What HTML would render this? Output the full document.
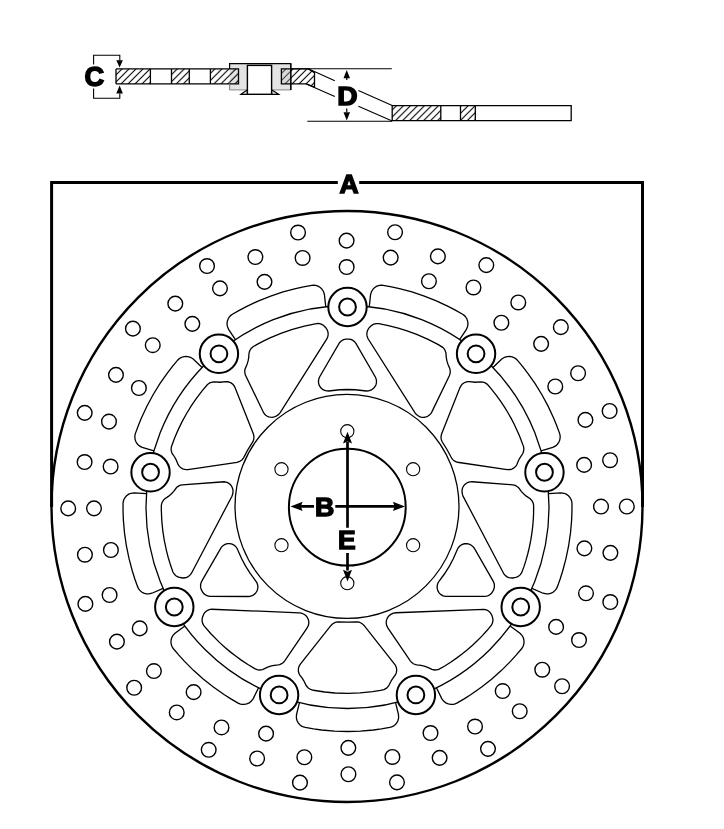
<!DOCTYPE html><html><head><meta charset="utf-8"><style>html,body{margin:0;padding:0;background:#fff;overflow:hidden}svg{display:block}text{font-family:"Liberation Sans",sans-serif;font-weight:bold}.t{will-change:transform}</style></head><body><svg width="724" height="829" viewBox="0 0 724 829"><defs><pattern id="h1" patternUnits="userSpaceOnUse" x="1.9" y="0" width="7" height="7"><path d="M-1 8L8 -1M-1 1L1 -1M6 8L8 6" stroke="#000" stroke-width="1.1"/></pattern><pattern id="h2" patternUnits="userSpaceOnUse" x="1.2" y="0" width="7" height="7"><path d="M-1 8L8 -1M-1 1L1 -1M6 8L8 6" stroke="#000" stroke-width="1.1"/></pattern><pattern id="h3" patternUnits="userSpaceOnUse" x="3.8" y="0" width="7" height="7"><path d="M-1 8L8 -1M-1 1L1 -1M6 8L8 6" stroke="#000" stroke-width="1.1"/></pattern><pattern id="h4" patternUnits="userSpaceOnUse" x="4.9" y="0" width="7" height="7"><path d="M-1 8L8 -1M-1 1L1 -1M6 8L8 6" stroke="#000" stroke-width="1.1"/></pattern><pattern id="h5" patternUnits="userSpaceOnUse" x="5.2" y="0" width="7" height="7"><path d="M-1 8L8 -1M-1 1L1 -1M6 8L8 6" stroke="#000" stroke-width="1.1"/></pattern><pattern id="h6" patternUnits="userSpaceOnUse" x="6.85" y="0" width="7" height="7"><path d="M-1 8L8 -1M-1 1L1 -1M6 8L8 6" stroke="#000" stroke-width="1.1"/></pattern></defs><rect width="724" height="829" fill="#fff"/><g fill="none" stroke="#000"><path d="M93.6 64.6V55.3H119.8V60.4M93.6 88.4V98.2H119.8V93.6" stroke-width="1.1"/></g><path d="M116.3 60.3H122.9L119.6 67.5ZM116.3 93.6H122.9L119.6 85.6Z" fill="#000"/><rect x="116" y="68.9" width="34.4" height="15" fill="url(#h1)"/><rect x="171.5" y="68.9" width="17.8" height="15" fill="url(#h2)"/><rect x="210.4" y="68.9" width="28.2" height="15" fill="url(#h3)"/><path d="M116 68.9H238.6M116 83.9H238.6M116 68.9V83.9M150.4 68.9V83.9M171.5 68.9V83.9M189.3 68.9V83.9M210.4 68.9V83.9M238.6 68.9V83.9" fill="none" stroke="#000" stroke-width="1.3"/><rect x="229.6" y="63.6" width="61.2" height="26.3" fill="#e3e3e3"/><path d="M229.6 89.9H290.8" stroke="#9a9a9a" stroke-width="1.2"/><path d="M229.6 69V63.6H290.8V89.9" fill="none" stroke="#000" stroke-width="1.2"/><path d="M229.6 84V89.9" stroke="#8a8a8a" stroke-width="1.2"/><rect x="229.6" y="68.9" width="8.9" height="15" fill="url(#h3)"/><path d="M229.6 68.9H238.5V83.9H229.6" fill="none" stroke="#000" stroke-width="1.3"/><path d="M281.4 68.9H308.3L314.5 72.6V87.1L306.3 83.9H281.4Z" fill="url(#h4)"/><rect x="281.4" y="68.9" width="9.4" height="15" fill="#c8c8c8" opacity="0.35"/><path d="M281.4 68.9H308.3L314.5 72.6V87.1L306.3 83.9H281.4Z" fill="none" stroke="#000" stroke-width="1.3"/><path d="M290.8 63.6V89.9" stroke="#000" stroke-width="1.2"/><path d="M241 94.3L247.4 89.8V94.3ZM278.6 94.3L271.6 89.8V94.3Z" fill="#e3e3e3" stroke="#000" stroke-width="1.2" stroke-linejoin="miter"/><rect x="247.4" y="65.4" width="24.2" height="28.9" fill="#fff" stroke="#000" stroke-width="1.4"/><path d="M290.2 68.8H391.8M307.3 121.2H392.2" fill="none" stroke="#000" stroke-width="1.1"/><path d="M308.3 68.8L334.8 80.8M358.4 90.6L392.2 105.6M306.3 83.9L334.8 96.6M358.4 106.2L392.2 121" fill="none" stroke="#000" stroke-width="1.1"/><rect x="392.2" y="105.6" width="48.6" height="15" fill="url(#h5)"/><rect x="460.5" y="105.6" width="14.8" height="15" fill="url(#h6)"/><path d="M392.2 105.6H571.2V120.6H392.2ZM440.8 105.6V120.6M460.5 105.6V120.6M475.3 105.6V120.6" fill="none" stroke="#000" stroke-width="1.3"/><path d="M346.75 77V80M346.75 108.6V112" stroke="#000" stroke-width="1.2"/><path d="M343.5 78.2H350L346.75 70ZM343.5 112.2H350L346.75 120.4Z" fill="#000"/><g class="t"><text transform="translate(347.5 105) scale(1.1 0.99)" font-size="25.6" text-anchor="middle" stroke="#000" stroke-width="1.4">D</text></g><g class="t"><text transform="translate(94.2 86.2) scale(0.97 0.98)" font-size="28" text-anchor="middle" stroke="#000" stroke-width="1.6">C</text></g><path d="M51.6 507V182.5H337.8M359.2 182.5H642.5V507" fill="none" stroke="#000" stroke-width="3"/><g class="t"><text x="349" y="193.3" font-size="26.5" text-anchor="middle" stroke="#000" stroke-width="1.4">A</text></g><circle cx="347" cy="506.5" r="295.5" fill="none" stroke="#000" stroke-width="2.4"/><path d="M353.92 240.65a7.35 7.35 0 1 0 -14.7 0a7.35 7.35 0 1 0 14.7 0ZM354.01 267.05a7.35 7.35 0 1 0 -14.7 0a7.35 7.35 0 1 0 14.7 0ZM402.39 232.23a7.35 7.35 0 1 0 -14.7 0a7.35 7.35 0 1 0 14.7 0ZM398 257.65a7.35 7.35 0 1 0 -14.7 0a7.35 7.35 0 1 0 14.7 0ZM445.23 256.42a7.35 7.35 0 1 0 -14.7 0a7.35 7.35 0 1 0 14.7 0ZM436.28 281.26a7.35 7.35 0 1 0 -14.7 0a7.35 7.35 0 1 0 14.7 0ZM493.65 265.08a7.35 7.35 0 1 0 -14.7 0a7.35 7.35 0 1 0 14.7 0ZM480.83 287.47a7.35 7.35 0 1 0 -14.7 0a7.35 7.35 0 1 0 14.7 0ZM525.63 302.47a7.35 7.35 0 1 0 -14.7 0a7.35 7.35 0 1 0 14.7 0ZM508.73 322.75a7.35 7.35 0 1 0 -14.7 0a7.35 7.35 0 1 0 14.7 0ZM568.18 327.17a7.35 7.35 0 1 0 -14.7 0a7.35 7.35 0 1 0 14.7 0ZM548.47 343.83a7.35 7.35 0 1 0 -14.7 0a7.35 7.35 0 1 0 14.7 0ZM585.44 373.24a7.35 7.35 0 1 0 -14.7 0a7.35 7.35 0 1 0 14.7 0ZM562.62 386.52a7.35 7.35 0 1 0 -14.7 0a7.35 7.35 0 1 0 14.7 0ZM616.97 411.01a7.35 7.35 0 1 0 -14.7 0a7.35 7.35 0 1 0 14.7 0ZM592.76 419.92a7.35 7.35 0 1 0 -14.7 0a7.35 7.35 0 1 0 14.7 0ZM617.43 460.2a7.35 7.35 0 1 0 -14.7 0a7.35 7.35 0 1 0 14.7 0ZM591.45 464.88a7.35 7.35 0 1 0 -14.7 0a7.35 7.35 0 1 0 14.7 0ZM634.15 506.48a7.35 7.35 0 1 0 -14.7 0a7.35 7.35 0 1 0 14.7 0ZM608.35 506.57a7.35 7.35 0 1 0 -14.7 0a7.35 7.35 0 1 0 14.7 0ZM617.76 552.86a7.35 7.35 0 1 0 -14.7 0a7.35 7.35 0 1 0 14.7 0ZM591.74 548.37a7.35 7.35 0 1 0 -14.7 0a7.35 7.35 0 1 0 14.7 0ZM617.64 602.06a7.35 7.35 0 1 0 -14.7 0a7.35 7.35 0 1 0 14.7 0ZM593.36 593.32a7.35 7.35 0 1 0 -14.7 0a7.35 7.35 0 1 0 14.7 0ZM586.37 640.04a7.35 7.35 0 1 0 -14.7 0a7.35 7.35 0 1 0 14.7 0ZM563.46 626.92a7.35 7.35 0 1 0 -14.7 0a7.35 7.35 0 1 0 14.7 0ZM569.43 686.23a7.35 7.35 0 1 0 -14.7 0a7.35 7.35 0 1 0 14.7 0ZM549.61 669.72a7.35 7.35 0 1 0 -14.7 0a7.35 7.35 0 1 0 14.7 0ZM527.06 711.23a7.35 7.35 0 1 0 -14.7 0a7.35 7.35 0 1 0 14.7 0ZM510.02 691.07a7.35 7.35 0 1 0 -14.7 0a7.35 7.35 0 1 0 14.7 0ZM495.34 748.84a7.35 7.35 0 1 0 -14.7 0a7.35 7.35 0 1 0 14.7 0ZM482.37 726.54a7.35 7.35 0 1 0 -14.7 0a7.35 7.35 0 1 0 14.7 0ZM446.98 757.84a7.35 7.35 0 1 0 -14.7 0a7.35 7.35 0 1 0 14.7 0ZM437.86 733.06a7.35 7.35 0 1 0 -14.7 0a7.35 7.35 0 1 0 14.7 0ZM404.31 782.34a7.35 7.35 0 1 0 -14.7 0a7.35 7.35 0 1 0 14.7 0ZM399.74 756.94a7.35 7.35 0 1 0 -14.7 0a7.35 7.35 0 1 0 14.7 0ZM355.78 774.25a7.35 7.35 0 1 0 -14.7 0a7.35 7.35 0 1 0 14.7 0ZM355.69 747.85a7.35 7.35 0 1 0 -14.7 0a7.35 7.35 0 1 0 14.7 0ZM307.31 782.67a7.35 7.35 0 1 0 -14.7 0a7.35 7.35 0 1 0 14.7 0ZM311.7 757.25a7.35 7.35 0 1 0 -14.7 0a7.35 7.35 0 1 0 14.7 0ZM264.47 758.48a7.35 7.35 0 1 0 -14.7 0a7.35 7.35 0 1 0 14.7 0ZM273.42 733.64a7.35 7.35 0 1 0 -14.7 0a7.35 7.35 0 1 0 14.7 0ZM216.05 749.82a7.35 7.35 0 1 0 -14.7 0a7.35 7.35 0 1 0 14.7 0ZM228.87 727.43a7.35 7.35 0 1 0 -14.7 0a7.35 7.35 0 1 0 14.7 0ZM184.07 712.43a7.35 7.35 0 1 0 -14.7 0a7.35 7.35 0 1 0 14.7 0ZM200.97 692.15a7.35 7.35 0 1 0 -14.7 0a7.35 7.35 0 1 0 14.7 0ZM141.52 687.73a7.35 7.35 0 1 0 -14.7 0a7.35 7.35 0 1 0 14.7 0ZM161.23 671.07a7.35 7.35 0 1 0 -14.7 0a7.35 7.35 0 1 0 14.7 0ZM124.26 641.66a7.35 7.35 0 1 0 -14.7 0a7.35 7.35 0 1 0 14.7 0ZM147.08 628.38a7.35 7.35 0 1 0 -14.7 0a7.35 7.35 0 1 0 14.7 0ZM92.73 603.89a7.35 7.35 0 1 0 -14.7 0a7.35 7.35 0 1 0 14.7 0ZM116.94 594.98a7.35 7.35 0 1 0 -14.7 0a7.35 7.35 0 1 0 14.7 0ZM92.27 554.7a7.35 7.35 0 1 0 -14.7 0a7.35 7.35 0 1 0 14.7 0ZM118.25 550.02a7.35 7.35 0 1 0 -14.7 0a7.35 7.35 0 1 0 14.7 0ZM75.55 508.42a7.35 7.35 0 1 0 -14.7 0a7.35 7.35 0 1 0 14.7 0ZM101.35 508.33a7.35 7.35 0 1 0 -14.7 0a7.35 7.35 0 1 0 14.7 0ZM91.94 462.04a7.35 7.35 0 1 0 -14.7 0a7.35 7.35 0 1 0 14.7 0ZM117.96 466.53a7.35 7.35 0 1 0 -14.7 0a7.35 7.35 0 1 0 14.7 0ZM92.06 412.84a7.35 7.35 0 1 0 -14.7 0a7.35 7.35 0 1 0 14.7 0ZM116.34 421.58a7.35 7.35 0 1 0 -14.7 0a7.35 7.35 0 1 0 14.7 0ZM123.33 374.86a7.35 7.35 0 1 0 -14.7 0a7.35 7.35 0 1 0 14.7 0ZM146.24 387.98a7.35 7.35 0 1 0 -14.7 0a7.35 7.35 0 1 0 14.7 0ZM140.27 328.67a7.35 7.35 0 1 0 -14.7 0a7.35 7.35 0 1 0 14.7 0ZM160.09 345.18a7.35 7.35 0 1 0 -14.7 0a7.35 7.35 0 1 0 14.7 0ZM182.64 303.67a7.35 7.35 0 1 0 -14.7 0a7.35 7.35 0 1 0 14.7 0ZM199.68 323.83a7.35 7.35 0 1 0 -14.7 0a7.35 7.35 0 1 0 14.7 0ZM214.36 266.06a7.35 7.35 0 1 0 -14.7 0a7.35 7.35 0 1 0 14.7 0ZM227.33 288.36a7.35 7.35 0 1 0 -14.7 0a7.35 7.35 0 1 0 14.7 0ZM262.72 257.06a7.35 7.35 0 1 0 -14.7 0a7.35 7.35 0 1 0 14.7 0ZM271.84 281.84a7.35 7.35 0 1 0 -14.7 0a7.35 7.35 0 1 0 14.7 0ZM305.39 232.56a7.35 7.35 0 1 0 -14.7 0a7.35 7.35 0 1 0 14.7 0ZM309.96 257.96a7.35 7.35 0 1 0 -14.7 0a7.35 7.35 0 1 0 14.7 0Z" fill="none" stroke="#000" stroke-width="1.4"/><path d="M459.59 339.56 L466.4 329.36 L467.64 326.38 L467.97 323.7 L467.7 321.29 L466.79 318.75 L465.46 316.71 L464.14 315.36 L462.61 314.26 L455.3 310.08 L448.12 306.31 L436.36 300.83 L424.3 296.04 L411.95 291.95 L399.42 288.59 L391.5 286.85 L383.22 285.36 L381.33 285.22 L379.45 285.4 L376.88 286.22 L374.79 287.47 L373.04 289.15 L371.57 291.41 L370.6 294.49 L369.26 306.68M541 450.78 L552.77 447.35 L555.63 445.86 L557.43 444.23 L558.95 442 L559.82 439.73 L560.18 437.06 L560.04 435.17 L559.57 433.34 L556.66 425.44 L553.58 417.94 L548.08 406.16 L541.92 394.74 L535.11 383.69 L527.67 373.06 L522.71 366.64 L517.33 360.17 L515.97 358.85 L514.41 357.78 L512.18 356.83 L509.52 356.38 L507.1 356.53 L504.52 357.32 L501.79 359.06 L492.93 367.53M531.86 588.31 L543.08 593.25 L546.24 593.95 L548.67 593.85 L551.27 593.13 L553.39 591.95 L555.38 590.13 L556.48 588.59 L557.3 586.89 L560.15 578.97 L562.61 571.24 L565.96 558.7 L568.59 546 L570.47 533.16 L571.61 520.21 L571.94 512.1 L571.98 503.69 L571.79 501.8 L571.28 499.98 L570.03 497.59 L568.43 495.76 L566.24 494.19 L563.99 493.27 L560.79 492.85 L548.56 493.65M436.46 687.8 L441.89 698.79 L443.85 701.36 L445.77 702.84 L448.23 703.95 L450.89 704.44 L453.31 704.3 L455.14 703.83 L456.87 703.06 L464.14 698.82 L470.99 694.48 L481.64 687.02 L491.82 678.97 L501.51 670.34 L510.69 661.17 L516.15 655.18 L521.59 648.75 L522.65 647.19 L523.43 645.47 L523.98 643.1 L523.97 640.4 L523.3 637.79 L522.17 635.64 L519.99 633.26 L510.1 626.01M299.44 702.68 L296.52 714.59 L296.38 717.82 L296.9 720.19 L298.06 722.63 L299.79 724.7 L301.73 726.16 L303.44 726.98 L305.26 727.49 L313.55 728.92 L321.59 730 L334.52 731.12 L347.49 731.5 L360.48 731.12 L373.41 730 L381.45 728.92 L389.74 727.49 L391.56 726.98 L393.27 726.16 L395.41 724.51 L396.94 722.63 L398.01 720.45 L398.62 717.82 L398.48 714.59 L395.56 702.68M184.9 626.01 L175.01 633.26 L172.83 635.64 L171.6 638.04 L171.03 640.4 L170.99 642.83 L171.57 645.47 L172.35 647.19 L173.41 648.75 L178.85 655.18 L184.31 661.17 L193.49 670.34 L203.18 678.97 L213.36 687.02 L224.01 694.48 L230.86 698.82 L238.13 703.06 L239.86 703.83 L241.69 704.3 L244.11 704.44 L246.77 703.95 L249.23 702.84 L251.15 701.36 L253.11 698.79 L258.54 687.8M146.44 493.65 L134.21 492.85 L131.01 493.27 L128.76 494.19 L126.57 495.76 L124.82 497.82 L123.72 499.98 L123.21 501.8 L123.02 503.69 L123.06 512.1 L123.39 520.21 L124.53 533.13 L126.41 546 L129.04 558.7 L132.39 571.24 L134.85 578.97 L137.7 586.89 L138.52 588.59 L139.62 590.13 L141.61 591.95 L143.73 593.13 L146.33 593.85 L148.76 593.95 L151.92 593.25 L163.14 588.31M202.07 367.53 L193.21 359.06 L190.48 357.32 L187.9 356.53 L185.48 356.38 L183.08 356.76 L180.59 357.78 L179.03 358.85 L177.67 360.17 L172.29 366.64 L167.33 373.06 L159.89 383.69 L153.08 394.74 L146.91 406.18 L141.42 417.94 L138.34 425.44 L135.43 433.34 L134.96 435.17 L134.82 437.06 L135.18 439.73 L136.05 442 L137.57 444.23 L139.37 445.86 L142.23 447.35 L154 450.78M325.74 306.68 L324.4 294.49 L323.43 291.41 L321.96 289.15 L320.21 287.47 L318.12 286.22 L315.55 285.4 L313.67 285.22 L311.78 285.36 L303.5 286.85 L295.58 288.59 L283.05 291.95 L270.7 296.04 L258.64 300.83 L246.88 306.31 L239.7 310.08 L232.39 314.26 L230.86 315.36 L229.54 316.71 L228.21 318.75 L227.3 321.29 L227.03 323.97 L227.36 326.38 L228.6 329.36 L235.41 339.56" fill="none" stroke="#000" stroke-width="1.3"/><circle cx="347.5" cy="507" r="201.5" fill="none" stroke="#000" stroke-width="1.3"/><path d="M461.98 491.04 L462.47 494.7 L463.16 496.4 L503.92 573.94 L505.11 575.35 L506.75 576.62 L508.63 577.51 L510.43 577.94 L512.73 577.98 L515.59 577.42 L517.34 576.81 L518.75 576 L520.33 574.63 L521.68 572.74 L523.95 566.66 L526.02 560.13 L527.85 553.52 L529.43 546.85 L530.76 540.13 L531.85 533.36 L532.69 526.56 L533.28 519.73 L533.61 512.94 L533.62 504.99 L533.05 502.74 L532.09 500.89 L530.22 498.83 L526.32 496.16 L523.53 493.76 L521.29 491.32 L518.83 488.04 L517.67 486.9 L515.28 485.47 L512.58 484.79 L472.18 481.77 L469.86 481.88 L468.06 482.38 L466.39 483.22 L464.92 484.37 L463.7 485.79 L462.79 487.41 L462.2 489.18 L461.98 491.04ZM441.67 433.76 L441.12 435.77 L441.02 437.85 L441.37 439.9 L442.16 441.82 L446.84 449.27 L451.98 458.69 L453.06 459.89 L454.33 460.89 L455.75 461.67 L457.5 462.24 L507.06 469.56 L510.06 469.52 L511.85 469.03 L513.51 468.2 L514.97 467.06 L516.05 465.85 L517.01 464.27 L518.28 461.01 L519.48 458.55 L522.78 453.49 L523.65 451.06 L523.86 448.72 L523.55 446.63 L519.54 435.97 L514.32 424.48 L511.16 418.39 L507.81 412.48 L504.21 406.64 L500.37 400.9 L496.36 395.34 L491.45 389.1 L488.2 385.24 L487.02 384.1 L485.26 382.96 L483.06 382.19 L480.97 381.97 L475.04 382.27 L469.67 381.63 L467.57 381.67 L465.96 382.03 L464.24 382.76 L462.69 383.82 L461.38 385.16 L459.98 387.59 L441.67 433.76ZM378.82 323.65 L376.05 323.59 L373.18 324.42 L370.88 325.95 L368.66 328.4 L367.44 330.63 L366.84 333.34 L367 335.88 L367.94 338.49 L415.21 413.18 L416.45 414.51 L418.11 415.76 L419.55 416.54 L421.11 417.05 L422.73 417.29 L424.36 417.25 L426.19 416.86 L427.7 416.23 L429.97 414.59 L431.03 413.34 L431.76 412.14 L449.34 375.68 L449.98 373.93 L450.28 371.62 L450.06 369.53 L449.57 367.97 L447.95 364.27 L447.04 361.41 L446.33 357.8 L445.9 352.81 L444.99 350.2 L443.98 348.65 L442.69 347.33 L438.31 344.64 L428.12 339.36 L416.67 334.32 L407.02 330.77 L398.23 328.05 L388.33 325.53 L378.82 323.65ZM247.18 363.93 L245.08 369.01 L244.75 371.09 L244.85 372.97 L245.39 375 L263.59 412.75 L264.56 414.07 L265.74 415.2 L267.3 416.23 L268.82 416.86 L270.41 417.22 L272.28 417.29 L274.13 416.99 L275.67 416.44 L278.38 414.65 L280.19 412.63 L326.83 338.89 L327.77 336.78 L328.17 334.5 L328 332.19 L327.29 329.99 L325.76 327.68 L324.12 325.95 L322.64 324.85 L321.18 324.15 L319.63 323.7 L318.03 323.52 L316.41 323.62 L304.45 326.05 L292.38 329.34 L281.53 333.08 L269.99 337.9 L263.76 340.89 L256.69 344.64 L253.04 346.77 L251.16 348.47 L250.12 349.99 L249.32 351.91 L249 353.49 L248.67 357.8 L248.14 360.69 L247.18 363.93ZM171.66 445.95 L171.26 447.55 L171.14 448.96 L171.26 450.6 L171.66 452.19 L172.45 453.9 L174.44 456.75 L175.82 459.12 L178.2 464.68 L179.39 466.39 L180.92 467.81 L182.72 468.85 L184.71 469.48 L186.32 469.66 L187.94 469.56 L237.04 462.33 L239.67 461.47 L242.11 459.73 L243.54 457.92 L247.78 449.93 L253.05 441.4 L253.88 438.76 L253.92 435.99 L253.33 433.76 L235.02 387.59 L234.03 385.73 L232.83 384.29 L231.36 383.12 L229.7 382.26 L227.9 381.75 L226.03 381.59 L220.02 382.27 L214.27 381.97 L212.4 382.1 L209.74 382.96 L208.54 383.68 L207.28 384.73 L202.11 390.87 L196.58 398.15 L191.41 405.68 L186.61 413.47 L182.24 421.42 L178.23 429.63 L174.62 438.03 L171.66 445.95ZM168.73 496.13 L164.6 498.98 L163.47 500.14 L161.95 502.74 L161.35 505.22 L161.31 509.51 L161.8 520.87 L162.84 531.1 L164.44 541.25 L166.61 551.36 L168.36 557.99 L170.69 565.58 L172.83 571.69 L173.94 573.73 L175.87 575.73 L178.52 577.16 L182.43 577.99 L185.41 577.75 L187.36 577.05 L188.94 576.09 L190.44 574.66 L191.6 572.94 L231.94 496.2 L232.65 494.26 L232.97 492.2 L233 490.57 L232.74 488.96 L231.68 486.37 L230.87 485.23 L229.73 484.06 L228.41 483.1 L227.16 482.47 L225.83 482.03 L224.22 481.77 L182.2 484.81 L179.74 485.46 L177.36 486.88 L176.2 488 L173.71 491.32 L171.47 493.76 L168.73 496.13ZM202.6 616.94 L202.1 619.21 L202.14 621.3 L202.63 623.33 L203.68 625.39 L211.1 633.95 L219.96 642.86 L225.04 647.46 L230.28 651.87 L235.69 656.09 L241.24 660.11 L247.91 664.53 L255.18 668.9 L257.12 669.68 L259.18 670.02 L261.03 669.94 L262.62 669.57 L267.64 667.21 L271.42 665.94 L274.3 665.32 L278.1 664.92 L279.71 664.57 L281.65 663.72 L283.35 662.46 L284.72 660.85 L307.31 627.7 L308.4 625.38 L308.81 623.08 L308.74 621.21 L308.29 619.4 L307.38 617.5 L306.24 616.03 L304.83 614.8 L303.42 613.97 L301.28 613.13 L299.25 612.78 L211.68 609.26 L210.28 609.41 L208.7 609.85 L207.22 610.55 L205.87 611.5 L204.87 612.48 L203.9 613.81 L202.6 616.94ZM300.36 664.15 L299.16 666.12 L298.47 668.32 L298.34 670.85 L298.82 673.11 L299.82 675.19 L302.18 678.22 L303.7 680.56 L306.29 685.78 L308.25 688.04 L310.6 689.49 L313.45 690.26 L324.68 692 L334.97 692.98 L347.53 693.4 L360.09 692.97 L372.59 691.7 L380.43 690.46 L383.97 689.66 L386.57 688.19 L388.59 685.98 L391.63 680.01 L395.64 674.39 L396.32 672.67 L396.67 670.62 L396.63 669.01 L396.32 667.42 L395.74 665.91 L394.92 664.52 L364.02 625.47 L362.74 624.14 L361.02 622.98 L359.1 622.21 L357.28 621.9 L347.53 622.2 L337.71 621.9 L335.24 622.42 L332.8 623.72 L330.98 625.47 L300.36 664.15ZM395.97 612.76 L393.5 613.2 L390.75 614.42 L388.76 616.03 L387.27 618.11 L386.39 620.52 L386.19 623.08 L386.68 625.6 L387.82 627.89 L410.28 660.85 L411.83 662.61 L413.35 663.72 L415.07 664.5 L416.67 664.89 L421.06 665.39 L424.23 666.12 L427.7 667.35 L431.94 669.42 L434.43 669.99 L436.74 669.93 L438.76 669.39 L445.2 665.71 L450.97 662 L456.55 658.12 L462.03 654.01 L467.36 649.69 L472.52 645.18 L477.52 640.49 L482.33 635.61 L486.97 630.56 L491.57 625 L492.52 622.88 L492.91 620.83 L492.9 619.21 L492.54 617.39 L491.65 614.84 L490.43 612.84 L489.13 611.5 L487.37 610.32 L485.63 609.63 L483.79 609.29 L395.97 612.76ZM439.17 581.02 L437.85 583.21 L437.16 585.66 L437.15 588.21 L437.81 590.67 L439.11 592.86 L440.94 594.63 L443.18 595.85 L445.66 596.44 L484.4 596.42 L486.26 596.23 L487.83 595.77 L489.1 595.17 L490.45 594.24 L491.46 593.27 L492.44 591.96 L493.59 589.9 L494.41 587 L494.32 584.21 L493.43 581.57 L474.12 547.98 L472.81 546.36 L470.97 544.95 L469.07 544.08 L467.03 543.66 L464.49 543.76 L462.27 544.43 L460.1 545.77 L458.5 547.44 L457.45 549.24 L453.29 558.8 L449.56 565.82 L444.57 573.76 L439.17 581.02ZM201.78 581.14 L200.88 583.29 L200.52 585.59 L200.74 587.9 L201.51 590.1 L203.09 592.73 L204.74 594.39 L206.95 595.69 L209.43 596.35 L248.42 596.48 L250.03 596.34 L252.88 595.37 L255.28 593.56 L257 591.09 L257.85 588.2 L257.8 585.43 L256.85 582.57 L250.05 573.21 L245.46 565.86 L241.42 558.2 L236.89 548.01 L235.58 546.38 L233.95 545.08 L232.08 544.16 L230.05 543.68 L227.5 543.71 L225.06 544.41 L222.88 545.73 L221.28 547.4 L201.78 581.14ZM319.72 376.75 L318.81 378.88 L318.45 381.18 L318.65 383.49 L319.41 385.68 L320.82 387.8 L322.56 389.34 L324.62 390.41 L326.87 390.95 L328.73 390.98 L339.53 389.77 L347.47 389.5 L355.41 389.77 L366.25 390.98 L368.57 390.88 L371.42 389.93 L373.84 388.13 L375.57 385.67 L376.15 384.16 L376.47 382.56 L376.37 379.79 L375.47 377.16 L355.9 343.34 L354.58 341.72 L352.94 340.43 L350.84 339.46 L348.79 339.04 L345.97 339.06 L343.5 339.69 L341.29 340.96 L339.5 342.77 L319.72 376.75Z" fill="none" stroke="#000" stroke-width="1.3"/><circle cx="347" cy="506.4" r="112" fill="none" stroke="#000" stroke-width="1.3"/><circle cx="347.5" cy="307" r="19.2" fill="#fff" stroke="#000" stroke-width="2.0"/><circle cx="347.5" cy="307" r="8.4" fill="none" stroke="#000" stroke-width="2.0"/><circle cx="476.06" cy="353.79" r="19.2" fill="#fff" stroke="#000" stroke-width="2.0"/><circle cx="476.06" cy="353.79" r="8.4" fill="none" stroke="#000" stroke-width="2.0"/><circle cx="544.46" cy="472.27" r="19.2" fill="#fff" stroke="#000" stroke-width="2.0"/><circle cx="544.46" cy="472.27" r="8.4" fill="none" stroke="#000" stroke-width="2.0"/><circle cx="520.71" cy="607" r="19.2" fill="#fff" stroke="#000" stroke-width="2.0"/><circle cx="520.71" cy="607" r="8.4" fill="none" stroke="#000" stroke-width="2.0"/><circle cx="415.9" cy="694.94" r="19.2" fill="#fff" stroke="#000" stroke-width="2.0"/><circle cx="415.9" cy="694.94" r="8.4" fill="none" stroke="#000" stroke-width="2.0"/><circle cx="279.1" cy="694.94" r="19.2" fill="#fff" stroke="#000" stroke-width="2.0"/><circle cx="279.1" cy="694.94" r="8.4" fill="none" stroke="#000" stroke-width="2.0"/><circle cx="174.29" cy="607" r="19.2" fill="#fff" stroke="#000" stroke-width="2.0"/><circle cx="174.29" cy="607" r="8.4" fill="none" stroke="#000" stroke-width="2.0"/><circle cx="150.54" cy="472.27" r="19.2" fill="#fff" stroke="#000" stroke-width="2.0"/><circle cx="150.54" cy="472.27" r="8.4" fill="none" stroke="#000" stroke-width="2.0"/><circle cx="218.94" cy="353.79" r="19.2" fill="#fff" stroke="#000" stroke-width="2.0"/><circle cx="218.94" cy="353.79" r="8.4" fill="none" stroke="#000" stroke-width="2.0"/><circle cx="347.3" cy="507.2" r="58.4" fill="none" stroke="#000" stroke-width="2"/><circle cx="347.3" cy="431.2" r="6.6" fill="none" stroke="#000" stroke-width="1.1"/><circle cx="413.12" cy="469.2" r="6.6" fill="none" stroke="#000" stroke-width="1.1"/><circle cx="413.12" cy="545.2" r="6.6" fill="none" stroke="#000" stroke-width="1.1"/><circle cx="347.3" cy="583.2" r="6.6" fill="none" stroke="#000" stroke-width="1.1"/><circle cx="281.48" cy="545.2" r="6.6" fill="none" stroke="#000" stroke-width="1.1"/><circle cx="281.48" cy="469.2" r="6.6" fill="none" stroke="#000" stroke-width="1.1"/><path d="M347.5 442V527.7M347.5 552.9V570.5M299 506.4H314M335.3 506.4H396" stroke="#000" stroke-width="2.7"/><path d="M347.5 431.8L352 443.6L347.5 441.6L343 443.6ZM347.5 581.6L352 569.8L347.5 571.8L343 569.8ZM290.5 506.4L302.6 501.8L300.8 506.4L302.6 511ZM405 506.4L392.9 501.8L394.7 506.4L392.9 511Z" fill="#000"/><g class="t"><text transform="translate(324.6 516.3) scale(1.03 1)" font-size="26" text-anchor="middle" stroke="#000" stroke-width="1.4">B</text></g><g class="t"><text transform="translate(346.9 549.4) scale(1.02 0.98)" font-size="26" text-anchor="middle" stroke="#000" stroke-width="1.4">E</text></g></svg></body></html>
